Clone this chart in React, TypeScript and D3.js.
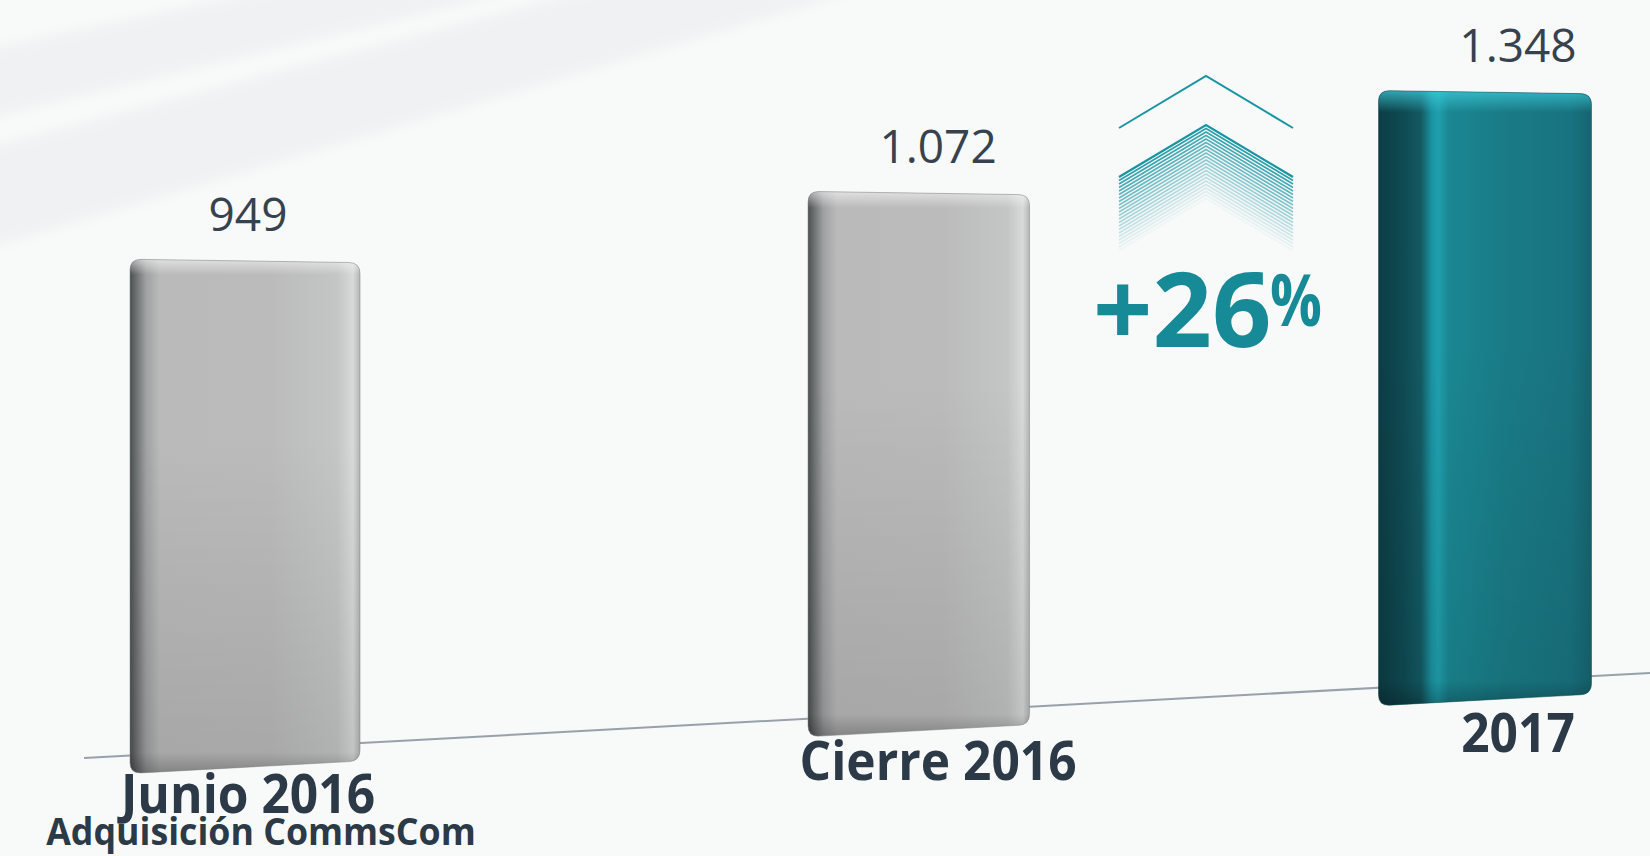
import { useEffect, useRef } from 'react'
import * as d3 from 'd3'

const categories = ['Junio 2016', 'Cierre 2016', '2017']
const subLabels = ['Adquisición CommsCom', '', '']
const values = [949, 1072, 1348]
const valueLabels = ['949', '1.072', '1.348']
const highlighted = [false, false, true]

const W = 1650
const H = 856

// rounded polygon helper (quadratic corners)
function roundedPoly(pts: [number, number][], r: number) {
  const n = pts.length
  let d = ''
  for (let i = 0; i < n; i++) {
    const p = pts[i]
    const prev = pts[(i - 1 + n) % n]
    const next = pts[(i + 1) % n]
    const v1 = [prev[0] - p[0], prev[1] - p[1]]
    const v2 = [next[0] - p[0], next[1] - p[1]]
    const l1 = Math.hypot(v1[0], v1[1])
    const l2 = Math.hypot(v2[0], v2[1])
    const a = [p[0] + (v1[0] / l1) * r, p[1] + (v1[1] / l1) * r]
    const b = [p[0] + (v2[0] / l2) * r, p[1] + (v2[1] / l2) * r]
    d += (i === 0 ? 'M' : 'L') + a[0] + ',' + a[1] + 'Q' + p[0] + ',' + p[1] + ' ' + b[0] + ',' + b[1]
  }
  return d + 'Z'
}

export default function App() {
  const ref = useRef<SVGSVGElement>(null)

  useEffect(() => {
    if (!ref.current) return
    document.body.style.margin = '0'
    document.body.style.overflow = 'hidden'

    const svg = d3.select(ref.current)
    svg.selectAll('*').remove()
    svg.attr('width', W).attr('height', H)

    const defs = svg.append('defs')

    const addGrad = (id: string, vertical: boolean, stops: [number, string, number?][]) => {
      const g = defs.append('linearGradient').attr('id', id)
        .attr('x1', 0).attr('y1', 0).attr('x2', vertical ? 0 : 1).attr('y2', vertical ? 1 : 0)
      stops.forEach(s => g.append('stop').attr('offset', s[0]).attr('stop-color', s[1])
        .attr('stop-opacity', s[2] ?? 1))
    }

    addGrad('greyH', false, [
      [0, '#4a4f50'], [0.025, '#6a6e6f'], [0.07, '#9fa1a2'], [0.13, '#bababa'],
      [0.6, '#bbbbbb'], [0.9, '#c4c5c5'], [0.97, '#d8dada'], [1, '#b4b6b6'],
    ])
    addGrad('tealH', false, [
      [0, '#0c3d44'], [0.12, '#0f4b53'], [0.2, '#135a63'], [0.25, '#1b93a1'],
      [0.28, '#1fa0ae'], [0.33, '#1a8792'], [0.6, '#197b86'], [0.9, '#187380'], [1, '#16646f'],
    ])
    addGrad('shadeV', true, [
      [0, '#ffffff', 0.55], [0.03, '#ffffff', 0], [0.35, '#000000', 0],
      [0.96, '#000000', 0.1], [1, '#000000', 0.3],
    ])
    addGrad('tealTop', true, [
      [0, '#3fd0df', 0.7], [0.035, '#3fd0df', 0], [0.4, '#000000', 0],
      [0.96, '#000000', 0.08], [1, '#000000', 0.3],
    ])
    defs.append('filter').attr('id', 'soft')
      .attr('x', '-20%').attr('y', '-20%').attr('width', '140%').attr('height', '140%')
      .append('feGaussianBlur').attr('stdDeviation', 6)

    // background
    svg.append('rect').attr('width', W).attr('height', H).attr('fill', '#f8f9f9')
    const streaks: [number, number][][] = [
      [[-20, 51], [-20, 120], [520, -10], [270, -10]],
      [[-20, 150], [-20, 250], [860, -10], [590, -10]],
    ]
    svg.selectAll('polygon.streak').data(streaks).join('polygon')
      .attr('class', 'streak')
      .attr('points', d => d.map(p => p.join(',')).join(' '))
      .attr('fill', '#e4e6e8').attr('opacity', 0.4)
      .attr('filter', 'url(#soft)')

    // Scales (perspective-like spacing)
    const xBar = d3.scalePow().exponent(0.88).domain([0, 2]).range([245, 1485])
    const xText = d3.scalePow().exponent(0.88).domain([0, 2]).range([248, 1518])
    const barW = d3.scaleLinear().domain([0, 2]).range([230, 213])
    const hScale = d3.scaleLinear().domain([0, 1400]).range([265, 621])
    const base = d3.scaleLinear().domain([84, 1650]).range([758, 673])
    const labelBase = d3.scaleLinear().domain([248, 1518]).range([813, 752])
    const slope = (base(1650) - base(84)) / (1650 - 84)

    // baseline
    svg.append('line')
      .attr('x1', 84).attr('y1', base(84))
      .attr('x2', 1650).attr('y2', base(1650))
      .attr('stroke', '#98a1a9').attr('stroke-width', 2)

    // bars
    values.forEach((v, i) => {
      const xc = xBar(i)
      const w = barW(i)
      const x0 = xc - w / 2
      const x1 = xc + w / 2
      const bc = base(xc) + 18
      const tc = bc - hScale(v)
      const pts: [number, number][] = [
        [x0, tc - 0.015 * w / 2],
        [x1, tc + 0.015 * w / 2],
        [x1, bc + slope * w / 2],
        [x0, bc - slope * w / 2],
      ]
      const d = roundedPoly(pts, 11)
      const g = svg.append('g')
      g.append('path').attr('d', d)
        .attr('fill', highlighted[i] ? 'url(#tealH)' : 'url(#greyH)')
      g.append('path').attr('d', d)
        .attr('fill', highlighted[i] ? 'url(#tealTop)' : 'url(#shadeV)')
      g.append('path').attr('d', d).attr('fill', 'none')
        .attr('stroke', highlighted[i] ? '#0f4850' : '#7d8182').attr('stroke-opacity', 0.5)
        .attr('stroke-width', 1)

      // value label
      svg.append('text')
        .attr('x', xText(i)).attr('y', tc - 30)
        .attr('text-anchor', 'middle')
        .attr('font-family', '"Open Sans", sans-serif')
        .attr('font-size', 46)
        .attr('fill', '#36424d')
        .text(valueLabels[i])

      // category label
      const lx = xText(i)
      const ly = labelBase(lx)
      svg.append('text')
        .attr('transform', `translate(${lx},${ly}) scale(0.92,1)`)
        .attr('text-anchor', 'middle')
        .attr('font-family', '"Open Sans", sans-serif')
        .attr('font-weight', 700)
        .attr('font-size', 54)
        .attr('fill', '#2c3a47')
        .text(categories[i])

      if (subLabels[i]) {
        svg.append('text')
          .attr('transform', `translate(${lx + 13},${ly + 32}) scale(0.94,1)`)
          .attr('text-anchor', 'middle')
          .attr('font-family', '"Open Sans", sans-serif')
          .attr('font-weight', 700)
          .attr('font-size', 38)
          .attr('fill', '#2c3a47')
          .text(subLabels[i])
      }
    })

    // growth indicator
    const growth = Math.round((values[2] / values[1] - 1) * 100)
    const arrow = svg.append('g').attr('transform', 'translate(1206,76)')
    arrow.append('path').attr('d', 'M-87,52L0,0L87,52')
      .attr('fill', 'none').attr('stroke', '#1895a2').attr('stroke-width', 2)
    const nLines = 22
    const op = d3.scalePow().exponent(0.8).domain([0, nLines - 1]).range([1, 0.04])
    d3.range(nLines).forEach(k => {
      const y0 = 49 + k * 3.5
      arrow.append('path').attr('d', `M-87,${y0 + 52}L0,${y0}L87,${y0 + 52}`)
        .attr('fill', 'none').attr('stroke', '#1895a2')
        .attr('stroke-width', k === 0 ? 2.2 : 1.6)
        .attr('stroke-opacity', op(k))
    })

    svg.append('text')
      .attr('x', 1093).attr('y', 347)
      .attr('font-family', '"Open Sans", sans-serif')
      .attr('font-weight', 700)
      .attr('font-size', 104)
      .attr('fill', '#168a96')
      .text(`+${growth}`)
    svg.append('text')
      .attr('transform', 'translate(1270,326) scale(0.8,1)')
      .attr('font-family', '"Open Sans", sans-serif')
      .attr('font-weight', 700)
      .attr('font-size', 72)
      .attr('fill', '#168a96')
      .text('%')
  }, [])

  return (
    <div style={{ position: 'absolute', left: 0, top: 0 }}>
      <svg ref={ref} style={{ display: 'block' }} />
    </div>
  )
}
